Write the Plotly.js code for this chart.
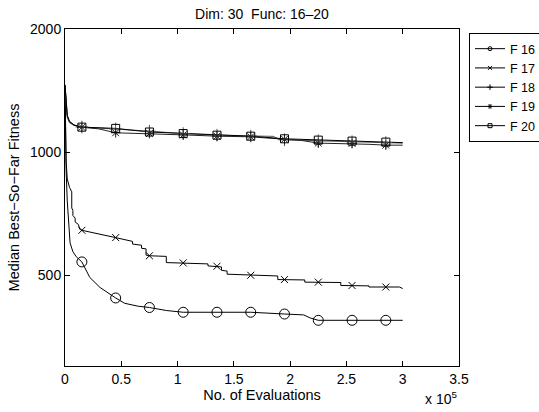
<!DOCTYPE html>
<html><head><meta charset="utf-8">
<script src="https://cdn.plot.ly/plotly-3.0.1.min.js"></script>
<style>html,body{margin:0;padding:0;background:#fff;}#chart{width:539px;height:412px;}</style>
</head><body><div id="chart"></div>
<script>
// ---- data ----
const seriesNames = ['F 16', 'F 17', 'F 18', 'F 19', 'F 20'];
const markerEvals = [15000, 45000, 75000, 105000, 135000, 165000, 195000, 225000, 255000, 285000];

const f16Evals  = [0, 500, 1000, 2000, 3000, 4500, 7000, 10000, 15000, 22000, 31000, 42000, 45000, 53000, 65000, 75000, 90000, 105000, 135000, 165000, 195000, 212000, 218000, 225000, 255000, 285000, 300000];
const f16Values = [1450, 1100, 900, 760, 680, 600, 571, 555, 539, 494, 467, 444, 440, 427, 420, 417, 410, 406, 406, 406, 402, 400, 393, 388, 388, 388, 388];

const f17Evals  = [0, 500, 1000, 2000, 4000, 6000, 6000, 7000, 7000, 9000, 9000, 12000, 13000, 15000, 30000, 45000, 60000, 60000, 68000, 68000, 72000, 72000, 75000, 90000, 90000, 105000, 127000, 127000, 135000, 139000, 139000, 144000, 144000, 165000, 189000, 189000, 195000, 213000, 213000, 225000, 245000, 245000, 255000, 270000, 270000, 285000, 297000, 300000];
const f17Values = [1450, 1150, 950, 860, 820, 800, 730, 720, 700, 690, 675, 665, 648, 644, 632, 618, 605, 596, 592, 582, 580, 560, 558, 556, 537, 536, 533, 527, 526, 524, 514, 512, 503, 500, 498, 488, 488, 487, 481, 481, 480, 472, 472, 471, 468, 468, 468, 464];

const f18Evals  = [0, 1000, 2000, 4000, 8000, 15000, 45000, 75000, 105000, 135000, 165000, 185000, 190000, 195000, 225000, 255000, 285000, 300000];
const f18Values = [1460, 1290, 1215, 1180, 1162, 1152, 1140, 1125, 1110, 1100, 1095, 1093, 1075, 1072, 1066, 1060, 1055, 1052];

const f19Evals  = [0, 1000, 2000, 4000, 8000, 15000, 30000, 45000, 75000, 105000, 135000, 165000, 195000, 210000, 225000, 255000, 270000, 285000, 300000];
const f19Values = [1460, 1300, 1225, 1185, 1165, 1150, 1140, 1115, 1110, 1102, 1094, 1090, 1075, 1068, 1052, 1050, 1045, 1040, 1040];

const f20Evals  = [0, 1000, 2000, 4000, 8000, 15000, 45000, 75000, 105000, 135000, 165000, 195000, 225000, 255000, 285000, 300000];
const f20Values = [1460, 1310, 1230, 1190, 1165, 1151, 1143, 1120, 1110, 1100, 1094, 1078, 1070, 1064, 1058, 1055];

const xTickVals = [0, 50000, 100000, 150000, 200000, 250000, 300000, 350000];
const xTickText = ['0', '0.5', '1', '1.5', '2', '2.5', '3', '3.5'];
const yTickVals = [500, 1000, 2000];
const yTickText = ['500', '1000', '2000'];

// ---- styles ----
const FONT = 'Liberation Sans, Arial, Helvetica, sans-serif';
const seriesX = [f16Evals, f17Evals, f18Evals, f19Evals, f20Evals];
const seriesY = [f16Values, f17Values, f18Values, f19Values, f20Values];
const symbols = ['circle-open', 'x-thin-open', 'cross-thin-open', 'asterisk-open', 'square-open'];
const msizes = [10, 7, 9, 8, 8];
const colors = ['#000', '#000', '#555', '#222', '#000'];

const traces = [];
// lines
for (let i = 0; i < 5; i++) {
  traces.push({
    x: seriesX[i], y: seriesY[i], mode: 'lines', type: 'scatter',
    line: {color: colors[i], width: 1}, showlegend: false, hoverinfo: 'skip'
  });
}
// markers at marker positions
for (let i = 0; i < 5; i++) {
  const mx = [], my = [];
  seriesX[i].forEach((v, k) => { if (markerEvals.includes(v)) { mx.push(v); my.push(seriesY[i][k]); } });
  traces.push({
    x: mx, y: my, mode: 'markers', type: 'scatter', showlegend: false, hoverinfo: 'skip',
    marker: {symbol: symbols[i], size: msizes[i], color: colors[i], line: {color: colors[i], width: 1}}
  });
}
// legend entries
for (let i = 0; i < 5; i++) {
  traces.push({
    x: [null], y: [null], mode: 'lines+markers', type: 'scatter', name: seriesNames[i],
    line: {color: '#000', width: 1},
    marker: {symbol: symbols[i], size: 4, color: '#000', line: {color: '#000', width: 1}}
  });
}

const axisCommon = {
  showline: true, linecolor: '#000', linewidth: 1, mirror: 'ticks',
  ticks: 'inside', ticklen: 5, tickcolor: '#000', tickwidth: 1,
  showgrid: false, zeroline: false,
  tickfont: {family: FONT, size: 14, color: '#000'}
};

const layout = {
  width: 539, height: 412,
  margin: {l: 65, r: 80, t: 29, b: 46, autoexpand: false},
  paper_bgcolor: '#fff', plot_bgcolor: '#fff',
  font: {family: FONT, color: '#000'},
  title: {text: 'Dim: 30  Func: 16\u201320', font: {family: FONT, size: 14, color: '#000'},
          xref: 'paper', x: 0.5, xanchor: 'center', yref: 'container', y: 0.966, yanchor: 'middle'},
  xaxis: Object.assign({}, axisCommon, {
    range: [0, 350000], tickmode: 'array', tickvals: xTickVals, ticktext: xTickText,
    title: {text: 'No. of Evaluations', font: {family: FONT, size: 14.5, color: '#000'}, standoff: 2}
  }),
  yaxis: Object.assign({}, axisCommon, {
    type: 'log', range: [Math.log10(300), Math.log10(2000)], tickmode: 'array',
    tickvals: yTickVals, ticktext: yTickText,
    title: {text: 'Median Best\u2212So\u2212Far Fitness', font: {family: FONT, size: 14.5, color: '#000'}, standoff: 6}
  }),
  legend: {
    x: 1.0254, y: 0.988, xanchor: 'left', yanchor: 'top', xref: 'paper', yref: 'paper',
    bgcolor: '#fff', bordercolor: '#000', borderwidth: 1,
    font: {family: FONT, size: 12.5, color: '#000'}, itemwidth: 30, tracegroupgap: 0
  },
  annotations: [{
    text: 'x 10<sup>5</sup>', xref: 'paper', yref: 'paper', x: 0.954, y: -0.095,
    xanchor: 'center', yanchor: 'middle', showarrow: false,
    font: {family: FONT, size: 14, color: '#000'}
  }],
  showlegend: true
};

Plotly.newPlot('chart', traces, layout, {displayModeBar: false, staticPlot: true});
</script>
</body></html>
